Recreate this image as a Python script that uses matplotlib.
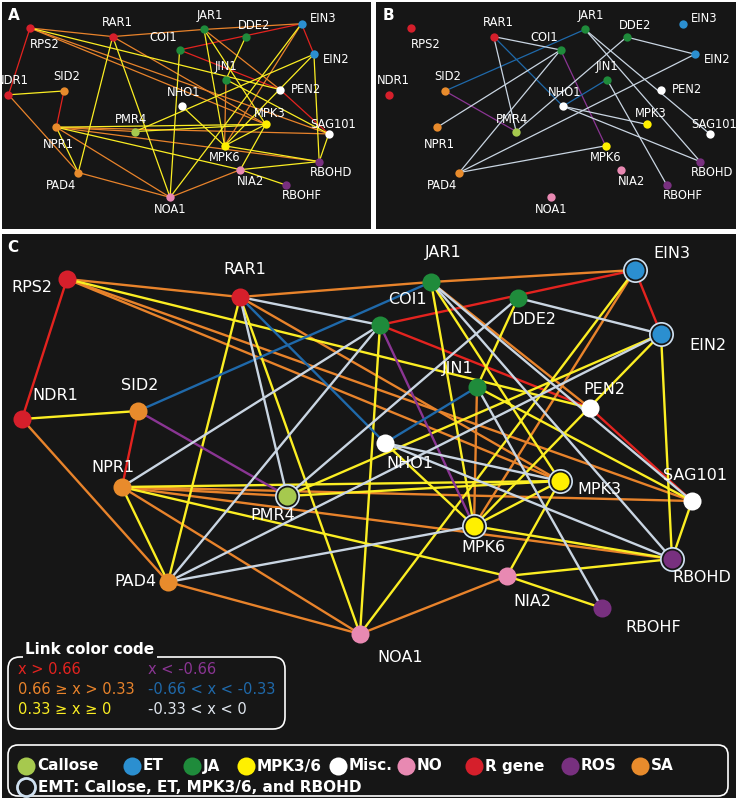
import numpy as np
import matplotlib
matplotlib.use("Agg")
from matplotlib import pyplot as plt
from matplotlib.patches import Rectangle, FancyBboxPatch

#--------
# Data:
#--------
nodes = ["RPS2", "RAR1", "NDR1", "SID2", "NPR1", "PAD4", "PMR4", "JAR1", "COI1", "DDE2",
         "JIN1", "EIN3", "EIN2", "PEN2", "NHO1", "SAG101", "MPK3", "MPK6", "NIA2", "NOA1",
         "RBOHD", "RBOHF"]
# layout of panel C (pixels)
node_x = [67, 240, 22, 138, 122, 168, 287, 431, 380, 518, 477, 635, 661, 590, 385, 692, 560, 474, 507, 360, 672, 602]
node_y = [279, 297, 419, 411, 487, 582, 496, 282, 325, 298, 387, 270, 334, 408, 443, 501, 481, 526, 576, 634, 559, 608]
node_group = ["R", "R", "R", "SA", "SA", "SA", "Callose", "JA", "JA", "JA",
              "JA", "ET", "ET", "Misc", "Misc", "Misc", "MPK", "MPK", "NO", "NO",
              "ROS", "ROS"]
emt = ["PMR4", "EIN3", "EIN2", "MPK3", "MPK6", "RBOHD"]
# label offsets relative to node (panel C pixels)
lab_dx = [-35, 5, 33, 2, -9, -33, -14, 12, 27, 16, -19, 37, 47, 14, 25, 3, 39, 9, 25, 40, 30, 51]
lab_dy = [9, -27, -24, -26, -19, 0, 20, -29, -26, 22, -18, -17, 12, -19, 20, -26, 8, 22, 25, 23, 19, 20]
# label offsets in the small panels A and B
small_dx = [15, 5, 4, 3, 2, -17, -4, 6, -16, 8, 0, 22, 22, 26, 2, 4, 4, 0, 10, 0, 12, 16]
small_dy = [16, -14, -14, -14, 17, 13, -12, -14, -12, -12, -13, -5, 5, 0, -14, -9, -11, 12, 12, 12, 11, 11]

# links: (a, b, class)  r: x>0.66, o: 0.66>=x>0.33, y: 0.33>=x>=0,
#                      p: x<-0.66, b: -0.66<x<-0.33, l: -0.33<x<0
links = [
    ("RPS2", "NDR1", "r"), ("SID2", "NPR1", "r"), ("COI1", "EIN3", "r"), ("COI1", "PEN2", "r"),
    ("PEN2", "SAG101", "r"), ("EIN3", "EIN2", "r"),
    ("RPS2", "RAR1", "o"), ("RAR1", "JAR1", "o"), ("JAR1", "EIN3", "o"), ("RPS2", "MPK3", "o"),
    ("RPS2", "SAG101", "o"), ("NDR1", "PAD4", "o"), ("NPR1", "SAG101", "o"), ("NPR1", "RBOHD", "o"),
    ("NPR1", "NOA1", "o"), ("PAD4", "NOA1", "o"), ("NOA1", "NIA2", "o"), ("JIN1", "MPK6", "o"),
    ("EIN3", "MPK6", "o"), ("JAR1", "PEN2", "o"), ("NPR1", "PMR4", "o"), ("RAR1", "MPK3", "o"),
    ("RPS2", "PEN2", "y"), ("NDR1", "SID2", "y"), ("RAR1", "PAD4", "y"), ("RAR1", "NOA1", "y"),
    ("COI1", "NOA1", "y"), ("JAR1", "MPK3", "y"), ("JAR1", "MPK6", "y"), ("DDE2", "JIN1", "y"),
    ("EIN3", "NOA1", "y"), ("EIN2", "PMR4", "y"), ("EIN2", "MPK6", "y"), ("EIN2", "RBOHD", "y"),
    ("JIN1", "SAG101", "y"), ("NHO1", "MPK6", "y"), ("PMR4", "MPK3", "y"), ("NPR1", "NIA2", "y"),
    ("NPR1", "PAD4", "y"), ("NIA2", "RBOHD", "y"), ("NIA2", "RBOHF", "y"), ("MPK3", "NIA2", "y"),
    ("MPK3", "MPK6", "y"), ("MPK6", "RBOHD", "y"), ("SAG101", "RBOHD", "y"), ("NPR1", "MPK3", "y"),
    ("SID2", "PMR4", "p"), ("COI1", "MPK6", "p"),
    ("SID2", "JAR1", "b"), ("RAR1", "NHO1", "b"), ("NHO1", "JIN1", "b"),
    ("RAR1", "PMR4", "l"), ("RAR1", "COI1", "l"), ("NPR1", "COI1", "l"), ("PAD4", "COI1", "l"),
    ("DDE2", "EIN2", "l"), ("DDE2", "PMR4", "l"), ("JAR1", "RBOHD", "l"), ("JAR1", "SAG101", "l"),
    ("JIN1", "RBOHF", "l"), ("NHO1", "MPK3", "l"), ("NHO1", "RBOHD", "l"), ("PAD4", "EIN2", "l"),
    ("PAD4", "MPK6", "l"),
]

link_col = {"r": "#e3231f", "o": "#e8832b", "y": "#fbee23", "p": "#8a3593", "b": "#1f69aa", "l": "#c9d5e2"}
group_col = {"Callose": "#a6c94e", "ET": "#2b8fd0", "JA": "#1f8b3b", "MPK": "#fff000", "Misc": "#ffffff",
             "NO": "#e889b2", "R": "#d51f2b", "ROS": "#78307f", "SA": "#e88b2c"}
legend_groups = [("Callose", "Callose"), ("ET", "ET"), ("JA", "JA"), ("MPK", "MPK3/6"), ("Misc", "Misc."),
                 ("NO", "NO"), ("R", "R gene"), ("ROS", "ROS"), ("SA", "SA")]
code_text = [("x > 0.66", "r"), ("0.66 \u2265 x > 0.33", "o"), ("0.33 \u2265 x \u2265 0", "y"),
             ("x < -0.66", "p"), ("-0.66 < x < -0.33", "b"), ("-0.33 < x < 0", "l")]

#-----------
# Plotting:
#-----------
BG = "#161616"
fig = plt.figure(figsize=(7.38, 8.0), dpi=100, facecolor="white")
ax = fig.add_axes([0, 0, 1, 1])
ax.set_xlim(0, 738); ax.set_ylim(800, 0); ax.axis("off")

for x0, y0, w, h in [(2, 2, 369, 227), (376, 2, 360, 227), (2, 234, 734, 564)]:
    ax.add_patch(Rectangle((x0, y0), w, h, fc=BG, ec="none", zorder=0))

pos = {n: (x, y) for n, x, y in zip(nodes, node_x, node_y)}

def tf(p, panel):
    if panel == "C":
        return p
    sx = 30 + (p[0] - 67) * 0.478 + (381 if panel == "B" else 0)
    sy = 28 + (p[1] - 279) * 0.477
    return sx, sy

def draw_net(panel):
    small = panel != "C"
    lw = 0.9 if small else 1.7
    for a, b, c in links:
        if panel == "A" and c in "pbl": continue
        if panel == "B" and c in "roy": continue
        (x1, y1), (x2, y2) = tf(pos[a], panel), tf(pos[b], panel)
        ax.plot([x1, x2], [y1, y2], color=link_col[c], lw=lw, zorder=2, solid_capstyle="round")
    ms = 6 if small else 13
    for i, n in enumerate(nodes):
        x, y = tf(pos[n], panel)
        col = group_col[node_group[i]]
        if n in emt and not small:
            ax.plot(x, y, "o", ms=ms + 5, mfc="#cfe0f0", mec="none", zorder=3)
            ax.plot(x, y, "o", ms=ms + 2.5, mfc=BG, mec="none", zorder=3)
        ax.plot(x, y, "o", ms=ms, mfc=col, mec="none", zorder=4)
        if small:
            tx, ty = x + small_dx[i], y + small_dy[i]
        else:
            tx, ty = x + lab_dx[i], y + lab_dy[i]
        ax.text(tx, ty, n, color="white", ha="center", va="center",
                fontsize=8.3 if small else 11.5, zorder=5)

for p in "ABC":
    draw_net(p)

for lab, (x, y) in [("A", (14, 15)), ("B", (388, 15)), ("C", (13, 247))]:
    ax.text(x, y, lab, color="white", fontsize=11, fontweight="bold", ha="center", va="center", zorder=6)

# link color code box
ax.add_patch(FancyBboxPatch((8, 657), 277, 72, boxstyle="round,pad=0,rounding_size=12",
                            fc="none", ec="white", lw=1.2, zorder=6))
ax.text(90, 649, "Link color code", color="white", fontsize=11, fontweight="bold", ha="center", va="center",
        zorder=7, bbox=dict(fc=BG, ec="none", pad=1.5))
for j, (t, c) in enumerate(code_text):
    ax.text(18 + 130 * (j // 3), 669 + 20 * (j % 3), t, color=link_col[c] if c != "l" else "#e0e6ee",
            fontsize=10.5, ha="left", va="center", zorder=7)

# group legend box
ax.add_patch(FancyBboxPatch((8, 745), 720, 51, boxstyle="round,pad=0,rounding_size=10",
                            fc="none", ec="white", lw=1.2, zorder=6))
xs = [16, 122, 182, 236, 328, 396, 464, 560, 630]
for x, (g, t) in zip(xs, legend_groups):
    ax.plot(x + 10, 766, "o", ms=13, mfc=group_col[g], mec="none", zorder=7)
    ax.text(x + 21, 766, t, color="white", fontsize=11, fontweight="bold", ha="left", va="center", zorder=7)
ax.plot(26, 787, "o", ms=13, mfc=BG, mec="#cfe0f0", mew=2, zorder=7)
ax.text(38, 787, "EMT: Callose, ET, MPK3/6, and RBOHD", color="white", fontsize=11, fontweight="bold",
        ha="left", va="center", zorder=7)

fig.savefig("out.png", dpi=100, facecolor="white")
